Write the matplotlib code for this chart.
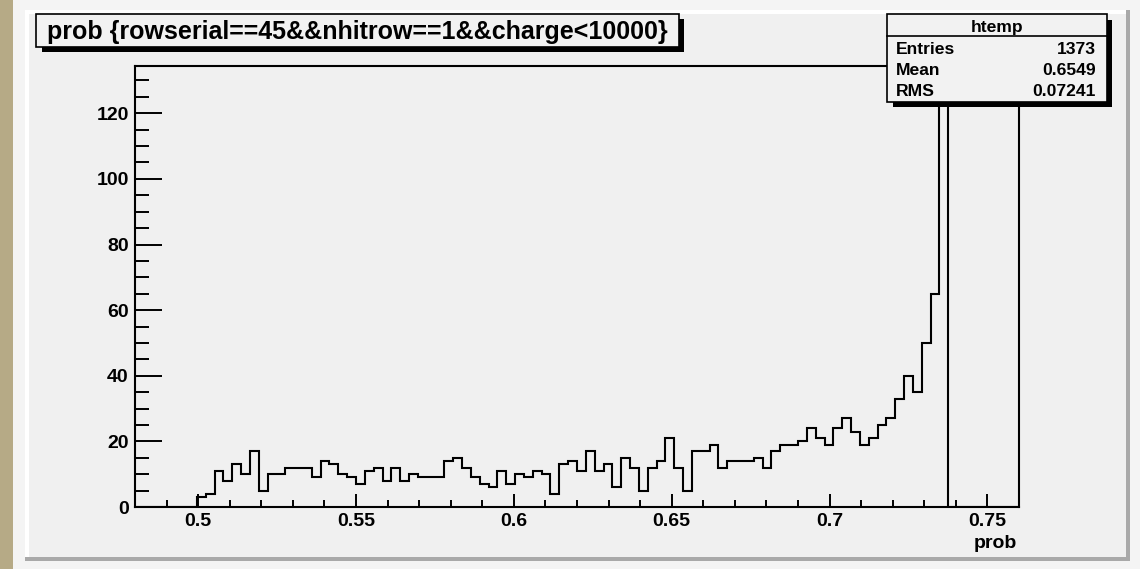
import numpy as np
import matplotlib
matplotlib.use("Agg")
import matplotlib.pyplot as plt
from matplotlib.patches import Rectangle
from matplotlib.ticker import MultipleLocator, FuncFormatter

plt.rcParams["font.family"] = ["Liberation Sans", "DejaVu Sans"]
plt.rcParams["font.weight"] = "bold"

# histogram binning of htemp
X_LO, X_HI, N_BINS = 0.48, 0.76, 100
counts = [
    0, 0, 0, 0, 0, 0, 0, 3, 4, 11,
    8, 13, 10, 17, 5, 10, 10, 12, 12, 12,
    9, 14, 13, 10, 9, 7, 11, 12, 8, 12,
    8, 10, 9, 9, 9, 14, 15, 12, 9, 7,
    6, 11, 7, 10, 9, 11, 10, 4, 13, 14,
    11, 17, 11, 13, 6, 15, 12, 5, 12, 14,
    21, 12, 5, 17, 17, 19, 12, 14, 14, 14,
    15, 12, 17, 19, 19, 20, 24, 21, 19, 24,
    27, 23, 19, 21, 25, 27, 33, 40, 35, 50,
    65, 128, 0, 0, 0, 0, 0, 0, 0, 0,
]
x_major = [0.5, 0.55, 0.6, 0.65, 0.7, 0.75]
y_major = [0, 20, 40, 60, 80, 100, 120]

title = "prob {rowserial==45&&nhitrow==1&&charge<10000}"
stats_name = "htemp"
stats_rows = [("Entries", "1373"), ("Mean", "0.6549"), ("RMS", "0.07241")]

W, H = 1140, 569
fig = plt.figure(figsize=(W / 100, H / 100), dpi=100)
fig.patch.set_facecolor("#f3f3f3")

# canvas decoration, drawn in pixel coordinates
bg = fig.add_axes([0, 0, 1, 1])
bg.set_xlim(0, W)
bg.set_ylim(H, 0)
bg.axis("off")
bg.set_zorder(0)

def box(ax, x0, y0, x1, y1, **kw):
    ax.add_patch(Rectangle((x0, y0), x1 - x0, y1 - y0, **kw))

box(bg, 0, 0, 13, H, color="#b6aa86", lw=0)
box(bg, 13, 0, W, H, color="#f4f4f4", lw=0)
# raised pad with bevel
box(bg, 25, 10, 1130, 561, color="#a9a9a9", lw=0)
box(bg, 25, 10, 1126, 557, color="#ffffff", lw=0)
box(bg, 29, 14, 1126, 557, color="#f0f0f0", lw=0)

# histogram frame
ax_l, ax_r, ax_t, ax_b = 135, 1019, 66, 507
ax = fig.add_axes([ax_l / W, 1 - ax_b / H, (ax_r - ax_l) / W, (ax_b - ax_t) / H])
ax.set_zorder(1)
ax.set_facecolor("#f0f0f0")

edges = np.linspace(X_LO, X_HI, N_BINS + 1)
ax.stairs(counts, edges, color="black", lw=1.5, baseline=0)

ax.set_xlim(X_LO, X_HI)
ax.set_ylim(0, 1.05 * max(counts))
for s in ax.spines.values():
    s.set_linewidth(1.5)

ax.xaxis.set_major_locator(plt.FixedLocator(x_major))
ax.xaxis.set_minor_locator(MultipleLocator(0.01))
ax.yaxis.set_major_locator(plt.FixedLocator(y_major))
ax.yaxis.set_minor_locator(MultipleLocator(5))
ax.xaxis.set_major_formatter(FuncFormatter(lambda v, p: f"{v:g}"))
ax.yaxis.set_major_formatter(FuncFormatter(lambda v, p: f"{v:g}"))

ax.tick_params(axis="y", which="major", direction="in", length=19.5, width=1.4,
               pad=4.5, labelsize=14)
ax.tick_params(axis="y", which="minor", direction="in", length=10, width=1.4)
ax.tick_params(axis="x", which="major", direction="in", length=9.5, width=1.4,
               pad=4, labelsize=14)
ax.tick_params(axis="x", which="minor", direction="in", length=5, width=1.4)
for lab in ax.get_xticklabels() + ax.get_yticklabels():
    lab.set_fontweight("bold")

# overlay for title and stats panes
ov = fig.add_axes([0, 0, 1, 1])
ov.set_xlim(0, W)
ov.set_ylim(H, 0)
ov.axis("off")
ov.set_zorder(2)
ov.patch.set_alpha(0)

ov.text(1017, 548, "prob", ha="right", va="baseline", fontsize=14, fontweight="bold")

# title pane
box(ov, 42, 19, 684, 51.5, color="black", lw=0)
box(ov, 36, 14, 679, 47, facecolor="#f2f2f2", edgecolor="black", lw=1.2)
ov.text(357.5, 38.5, title, ha="center", va="baseline", fontsize=18, fontweight="bold")

# statistics pane
sx0, sy0, sx1, sy1 = 887, 14, 1107, 101.5
box(ov, sx0 + 6, sy0 + 6, sx1 + 5, sy1 + 5, color="black", lw=0)
box(ov, sx0, sy0, sx1, sy1, facecolor="#f2f2f2", edgecolor="black", lw=1.2)
ov.plot([sx0, sx1], [35.7, 35.7], color="black", lw=1.2)
ov.text((sx0 + sx1) / 2, 32, stats_name, ha="center", va="baseline",
        fontsize=12.6, fontweight="bold")
for i, (k, v) in enumerate(stats_rows):
    yb = 54 + 21 * i
    ov.text(896, yb, k, ha="left", va="baseline", fontsize=12.6, fontweight="bold")
    ov.text(1096, yb, v, ha="right", va="baseline", fontsize=12.6, fontweight="bold")

fig.savefig("out.png", dpi=100)
